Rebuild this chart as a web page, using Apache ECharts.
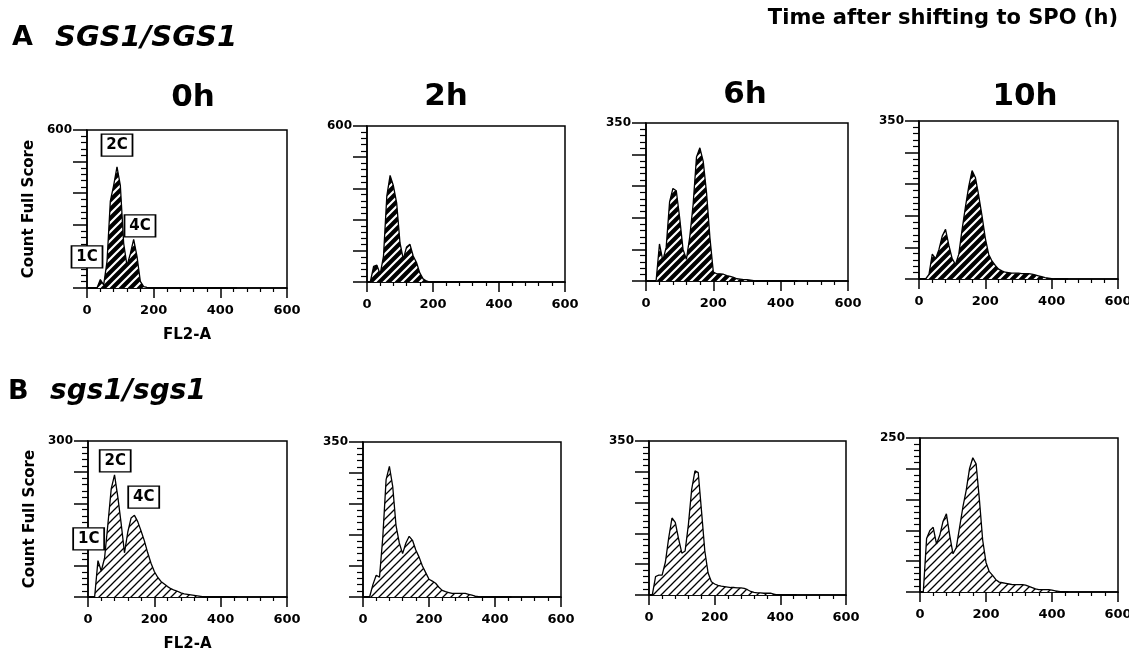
<!DOCTYPE html>
<html>
<head>
<meta charset="utf-8">
<script src="https://cdn.jsdelivr.net/npm/echarts@6/dist/echarts.min.js"></script>
<style>
  html, body { margin: 0; padding: 0; background: #fff; }
  #main { width: 1129px; height: 655px; }
</style>
</head>
<body>
<div id="main"></div>
<script>
// FL2-A bins (channel value), shared by every panel
var bins = [0, 10, 20, 30, 40, 50, 60, 70, 80, 90, 100, 110, 120, 130, 140, 150, 160, 170, 180, 190,
  200, 210, 220, 230, 240, 250, 260, 270, 280, 290, 300, 310, 320, 330, 340, 350, 360, 370, 380, 390,
  400, 410, 420, 430, 440, 450];

// A  SGS1/SGS1
var countA0h = [0, 0, 0, 0, 32, 12, 100, 330, 390, 460, 390, 170, 85, 130, 185, 120, 25, 5, 2, 0,
  0, 0, 0, 0, 0, 0, 0, 0, 0, 0, 0, 0, 0, 0, 0, 0, 0, 0, 0, 0, 0, 0, 0, 0, 0, 0];
var countA2h = [0, 0, 60, 65, 30, 100, 330, 410, 370, 303, 150, 88, 135, 145, 100, 75, 35, 12, 4, 0,
  0, 0, 0, 0, 0, 0, 0, 0, 0, 0, 0, 0, 0, 0, 0, 0, 0, 0, 0, 0, 0, 0, 0, 0, 0, 0];
var countA6h = [0, 0, 0, 0, 82, 45, 75, 175, 205, 200, 140, 70, 48, 98, 170, 275, 295, 265, 194, 95,
  20, 16, 16, 15, 12, 10, 8, 5, 4, 3, 3, 2, 1, 0, 0, 0, 0, 0, 0, 0, 0, 0, 0, 0, 0, 0];
var countA10h = [0, 0, 0, 10, 55, 45, 65, 95, 110, 75, 45, 32, 55, 110, 160, 205, 240, 225, 185, 140,
  90, 55, 40, 30, 22, 18, 15, 14, 13, 13, 13, 12, 12, 12, 11, 9, 7, 5, 3, 2, 1, 0, 0, 0, 0, 0];

// B  sgs1/sgs1
var countB0h = [0, 0, 0, 70, 50, 75, 140, 208, 235, 192, 141, 85, 125, 152, 157, 145, 127, 108, 85, 65,
  49, 38, 30, 25, 20, 16, 13, 11, 8, 6, 5, 4, 3, 2, 1, 0, 0, 0, 0, 0, 0, 0, 0, 0, 0, 0];
var countB2h = [0, 0, 0, 28, 49, 45, 135, 265, 295, 250, 162, 122, 98, 122, 137, 128, 106, 90, 70, 55,
  40, 36, 31, 22, 15, 12, 10, 8, 8, 8, 8, 8, 6, 4, 2, 1, 0, 0, 0, 0, 0, 0, 0, 0, 0, 0];
var countB6h = [0, 0, 42, 45, 45, 75, 130, 175, 165, 128, 95, 100, 160, 240, 282, 278, 190, 100, 50, 30,
  25, 22, 20, 19, 18, 17, 17, 16, 16, 15, 12, 8, 6, 5, 5, 4, 4, 4, 2, 0, 0, 0, 0, 0, 0, 0];
var countB10h = [0, 0, 87, 100, 105, 78, 92, 115, 127, 92, 62, 72, 105, 138, 165, 200, 218, 208, 150, 84,
  48, 33, 27, 20, 16, 15, 14, 13, 12, 12, 12, 12, 11, 9, 7, 5, 4, 4, 4, 4, 3, 2, 1, 0, 0, 0];

var panelCounts = [countA0h, countA2h, countA6h, countA10h, countB0h, countB2h, countB6h, countB10h];
var yMax = [600, 600, 350, 350, 300, 350, 350, 250];
var timeLabels = ['0h', '2h', '6h', '10h'];

// peak annotations [x, y] in data units for the 0h panels
var peakNames = ['1C', '2C', '4C'];
var peaksA0h = [[0, 118], [90, 543], [159, 236]];
var peaksB0h = [[2, 112], [82, 262], [168, 192]];

// plot boxes: left, top, width, height
var boxes = [
  [87, 130, 200, 158], [367, 126, 198, 156], [646, 123, 202, 158], [919, 121, 199, 158],
  [88, 441, 199, 156], [363, 442, 198, 155], [649, 441, 197, 154], [920, 438, 198, 154]
];

var FONT = '"DejaVu Sans", "Liberation Sans", sans-serif';

function hatch(size, bg, fg, lw) {
  var c = document.createElement('canvas');
  c.width = size; c.height = size;
  var ctx = c.getContext('2d');
  ctx.fillStyle = bg;
  ctx.fillRect(0, 0, size, size);
  ctx.strokeStyle = fg;
  ctx.lineWidth = lw;
  ctx.beginPath();
  ctx.moveTo(0, size); ctx.lineTo(size, 0);
  ctx.moveTo(-2, 2); ctx.lineTo(2, -2);
  ctx.moveTo(size - 2, size + 2); ctx.lineTo(size + 2, size - 2);
  ctx.stroke();
  return c;
}
var hatchA = hatch(9, '#000', '#fff', 2.2);
var hatchB = hatch(8, '#fff', '#000', 1.3);

var grids = [], xAxes = [], yAxes = [], series = [];

boxes.forEach(function (b, i) {
  var firstCol = i % 4 === 0;
  var max = yMax[i];
  grids.push({
    left: b[0], top: b[1], width: b[2], height: b[3],
    show: true, borderColor: '#000', borderWidth: 1.5, backgroundColor: '#fff',
    containLabel: false, outerBoundsMode: 'none'
  });
  xAxes.push({
    gridIndex: i, type: 'value', min: 0, max: 600, interval: 200,
    name: firstCol ? 'FL2-A' : '', nameLocation: 'middle', nameGap: 40,
    nameTextStyle: { color: '#000', fontWeight: 'bold', fontSize: 15, fontFamily: FONT },
    axisLine: { show: true, lineStyle: { color: '#000', width: 1.5 } },
    axisTick: { show: true, length: 10, lineStyle: { color: '#000', width: 1.5 } },
    minorTick: { show: true, splitNumber: 5, length: 4, lineStyle: { color: '#000', width: 1.2 } },
    splitLine: { show: false },
    axisLabel: { color: '#000', fontWeight: 'bold', fontSize: 13, fontFamily: FONT, margin: 16 }
  });
  yAxes.push({
    gridIndex: i, type: 'value', min: 0, max: max, interval: max / 5,
    name: firstCol ? 'Count Full Score' : '', nameLocation: 'middle', nameGap: 50,
    nameTextStyle: { color: '#000', fontWeight: 'bold', fontSize: 15, fontFamily: FONT },
    axisLine: { show: true, lineStyle: { color: '#000', width: 1.5 } },
    axisTick: { show: true, length: 14, lineStyle: { color: '#000', width: 1.5 } },
    minorTick: { show: true, splitNumber: 5, length: 6, lineStyle: { color: '#000', width: 1.2 } },
    splitLine: { show: false },
    axisLabel: {
      color: '#000', fontWeight: 'bold', fontSize: 12, fontFamily: FONT, margin: 15,
      formatter: function (v) { return v === max ? String(v) : ''; }
    }
  });

  var counts = panelCounts[i];
  var s = {
    type: 'line', xAxisIndex: i, yAxisIndex: i,
    data: bins.map(function (x, k) { return [x, counts[k]]; }),
    symbol: 'none', animation: false, clip: false,
    lineStyle: { color: '#000', width: 1.3 },
    areaStyle: { color: { image: i < 4 ? hatchA : hatchB, repeat: 'repeat' }, opacity: 1 }
  };
  var peaks = i === 0 ? peaksA0h : (i === 4 ? peaksB0h : null);
  if (peaks) {
    s.markPoint = {
      symbol: 'rect', symbolSize: [31, 22], animation: false,
      itemStyle: { color: '#fff', borderColor: '#000', borderWidth: 1.5 },
      label: {
        show: true, position: 'inside', formatter: '{b}', color: '#000',
        fontWeight: 'bold', fontSize: 15, fontFamily: FONT
      },
      data: peaks.map(function (p, k) { return { name: peakNames[k], coord: p }; })
    };
  }
  series.push(s);
});

var graphics = [
  { type: 'text', x: 12, y: 38, style: { text: 'A', font: 'bold 27px ' + FONT, fill: '#000', verticalAlign: 'middle' } },
  { type: 'text', x: 55, y: 38, style: { text: 'SGS1/SGS1', font: 'italic bold 29px ' + FONT, fill: '#000', verticalAlign: 'middle' } },
  { type: 'text', x: 8, y: 392, style: { text: 'B', font: 'bold 27px ' + FONT, fill: '#000', verticalAlign: 'middle' } },
  { type: 'text', x: 50, y: 392, style: { text: 'sgs1/sgs1', font: 'italic bold 28px ' + FONT, fill: '#000', verticalAlign: 'middle' } },
  { type: 'text', x: 1118, y: 19, style: { text: 'Time after shifting to SPO (h)', font: 'bold 21px ' + FONT, fill: '#000', align: 'right', verticalAlign: 'middle' } }
];
var titleX = [193, 446, 745, 1025];
var titleY = [98, 97, 95, 97];
timeLabels.forEach(function (t, k) {
  graphics.push({ type: 'text', x: titleX[k], y: titleY[k],
    style: { text: t, font: 'bold 31px ' + FONT, fill: '#000', align: 'center', verticalAlign: 'middle' } });
});

var chart = echarts.init(document.getElementById('main'), null, { renderer: 'canvas' });
chart.setOption({
  backgroundColor: '#fff',
  animation: false,
  grid: grids,
  xAxis: xAxes,
  yAxis: yAxes,
  series: series,
  graphic: graphics
});
</script>
</body>
</html>
